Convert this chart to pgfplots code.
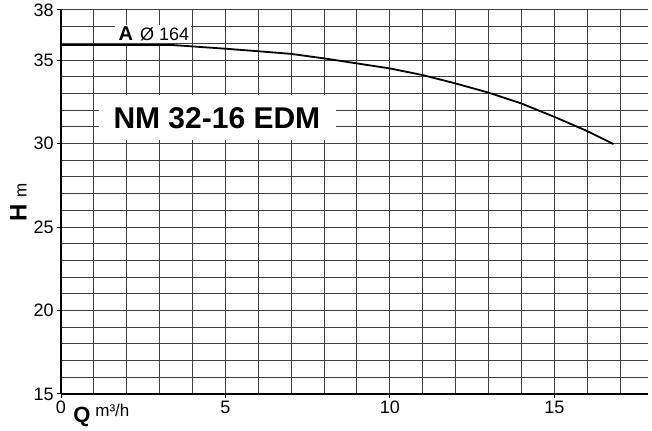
\documentclass[border=0pt]{standalone}
\usepackage{fontspec}
\setmainfont{Liberation Sans}
\usepackage{pgfplots}
\pgfplotsset{compat=1.18}
\begin{document}
\begin{tikzpicture}
\begin{axis}[
  at={(0,0)}, anchor=south west,
  scale only axis, width=293.5pt, height=192pt,
  xmin=0, xmax=17.85, ymin=15, ymax=38,
  axis x line=bottom, axis y line=left,
  axis line style={-, line width=0.6pt, black},
  xtick={0,5,10,15}, ytick={15,20,25,30,35,38},
  minor xtick={1,...,17}, minor ytick={16,...,37},
  grid=both,
  major grid style={black!75, line width=0.5pt},
  minor grid style={black!75, line width=0.5pt},
  tick align=outside, major tick length=2pt, minor tick length=0pt,
  tick style={black, line width=0.5pt},
  /pgf/number format/assume math mode=true,
  tick label style={font=\fontsize{9}{10}\selectfont},
  yticklabel style={inner sep=1.5pt},
  xticklabel style={inner sep=1.5pt},
  clip=false,
]
\addplot[black, line width=0.9pt, sharp plot] coordinates {
  (0,35.9) (3.4,35.9) (5,35.68) (6,35.53) (7,35.37) (8,35.1) (9,34.8)
  (10,34.5) (11,34.1) (12,33.6) (13,33.05) (14,32.4) (15,31.6) (16,30.75) (16.8,29.97)
};
\fill[white] (axis cs:1.155,30.21) rectangle (axis cs:8.36,32.9);
\node[anchor=base, inner sep=0pt, font=\fontsize{15}{18}\selectfont\bfseries] at (axis cs:4.74,30.93) {NM 32-16 EDM};
\fill[white] (axis cs:1.64,36.05) rectangle (axis cs:3.95,37.12);
\node[anchor=base west, inner sep=0pt, font=\fontsize{9}{10}\selectfont] at (axis cs:1.74,36.16) {{\fontsize{10}{11}\selectfont\bfseries A}\hspace{3.5pt}Ø 164};
\node[anchor=base, inner sep=0pt, rotate=90] at (axis cs:-1.049,26.47) {{\fontsize{12}{13}\selectfont\bfseries H}\hspace{3pt}{\fontsize{8.5}{9}\selectfont m}};
\node[anchor=base west, inner sep=0pt, font=\fontsize{11}{12}\selectfont\bfseries] at (axis cs:0.365,13.29) {Q};
\node[anchor=base west, inner sep=0pt, font=\fontsize{8.5}{10}\selectfont] at (axis cs:1.033,13.65) {m³/h};
\end{axis}
\pgfresetboundingbox
\path[use as bounding box] (-30.5pt,-18.5pt) rectangle (295.5pt,197pt);
\end{tikzpicture}
\end{document}
